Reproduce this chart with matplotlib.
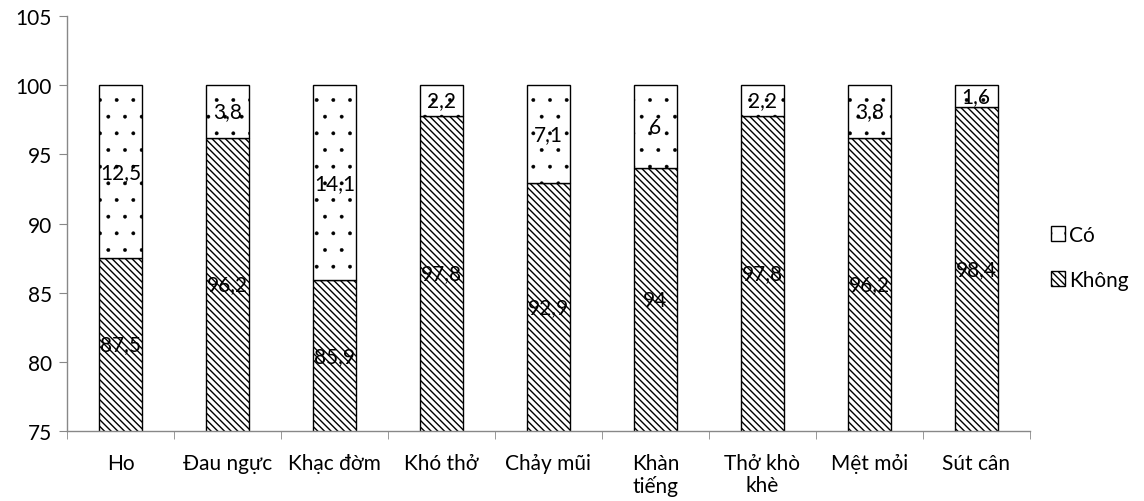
import numpy as np
import matplotlib.pyplot as plt
from matplotlib.ticker import FixedLocator, NullFormatter

plt.rcParams['font.family'] = ['Lato', 'DejaVu Sans']
plt.rcParams['hatch.linewidth'] = 1.0

categories = ['Ho', 'Đau ngực', 'Khạc đờm', 'Khó thở', 'Chảy mũi',
              'Khàn\ntiếng', 'Thở khò\nkhè', 'Mệt mỏi', 'Sút cân']
khong = [87.5, 96.2, 85.9, 97.8, 92.9, 94, 97.8, 96.2, 98.4]
co = [12.5, 3.8, 14.1, 2.2, 7.1, 6, 2.2, 3.8, 1.6]

def fmt(v):
    return ('%g' % v).replace('.', ',')

BS = chr(92)
fs = 15

fig = plt.figure(figsize=(11.44, 5.02), dpi=100)
ax = fig.add_axes([0.0586, 0.1394, 0.8415, 0.8266])

x = np.arange(len(categories))
w = 0.4
ymin = 75
b1 = ax.bar(x, khong, w, color='white', edgecolor='black', hatch=BS * 5,
            linewidth=1.0, label='Không')
b2 = ax.bar(x, co, w, bottom=khong, color='white', edgecolor='black',
            hatch='.', linewidth=1.0, label='Có')
for p in b2:
    if hasattr(p, 'set_hatch_linewidth'):
        p.set_hatch_linewidth(0.3)

for i in range(len(categories)):
    ax.text(x[i], (ymin + khong[i]) / 2, fmt(khong[i]), ha='center', va='center',
            fontsize=fs)
    ax.text(x[i], khong[i] + co[i] / 2, fmt(co[i]), ha='center', va='center',
            fontsize=fs)

ax.set_ylim(75, 105)
ax.set_xlim(-0.5, len(categories) - 0.5)
ax.set_yticks(range(75, 106, 5))
ax.set_xticks(x)
ax.set_xticklabels(categories, fontsize=fs, linespacing=1.1)
ax.tick_params(axis='x', length=0, pad=16)
ax.xaxis.set_minor_locator(FixedLocator(np.arange(-0.5, len(categories), 1)))
ax.xaxis.set_minor_formatter(NullFormatter())
ax.tick_params(axis='x', which='minor', length=6, color='#888888', direction='out')
ax.tick_params(axis='y', labelsize=fs, length=6, color='#888888', pad=5)

for s in ['top', 'right']:
    ax.spines[s].set_visible(False)
for s in ['left', 'bottom']:
    ax.spines[s].set_color('#888888')
    ax.spines[s].set_linewidth(1.0)

handles = [b2, b1]
leg = fig.legend(handles, ['Có', 'Không'], loc='center left',
                 bbox_to_anchor=(0.902, 0.485), frameon=False, fontsize=fs,
                 handlelength=0.7, handleheight=0.7, handletextpad=0.2,
                 labelspacing=1.2)

fig.savefig('out.png', dpi=100)
